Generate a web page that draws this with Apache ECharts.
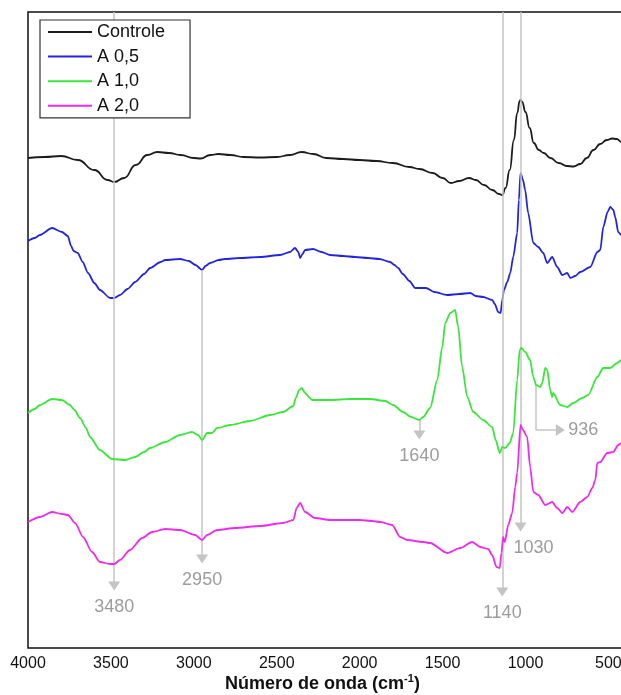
<!DOCTYPE html>
<html>
<head>
<meta charset="utf-8">
<script src="https://cdn.jsdelivr.net/npm/echarts@6/dist/echarts.min.js"></script>
<style>
  html, body { margin: 0; padding: 0; background: #fff; }
  #chart { width: 621px; height: 695px; }
</style>
</head>
<body>
<div id="chart"></div>
<script>
// FTIR spectra, offset vertically (arbitrary units), wavenumber in cm-1
const controle = [
  [4000, 49.0], [3900, 49.1], [3800, 49.2], [3700, 48.8], [3600, 47.8], [3520, 46.8],
  [3480, 46.6], [3420, 47.0], [3350, 48.3], [3280, 49.3], [3220, 49.6], [3150, 49.5],
  [3080, 49.3], [3000, 49.0], [2960, 48.95], [2900, 49.3], [2850, 49.4], [2780, 49.3],
  [2700, 49.1], [2600, 49.05], [2500, 49.1], [2420, 49.3], [2350, 49.6], [2280, 49.4],
  [2200, 49.0], [2100, 48.9], [2000, 48.8], [1900, 48.7], [1800, 48.5], [1700, 48.1],
  [1640, 47.9], [1560, 47.5], [1500, 47.0], [1450, 46.5], [1400, 46.7], [1340, 47.0],
  [1300, 46.8], [1250, 46.3], [1200, 45.8], [1160, 45.4], [1140, 45.3], [1120, 46.0],
  [1095, 47.8], [1070, 50.8], [1050, 53.5], [1035, 54.7], [1030, 54.8], [1020, 54.6],
  [1000, 53.6], [975, 52.0], [950, 50.5], [920, 49.8], [890, 49.5], [850, 49.0],
  [800, 48.5], [750, 48.2], [710, 48.15], [670, 48.4], [630, 49.0], [590, 49.8],
  [550, 50.4], [510, 50.8], [477, 50.95], [450, 50.9], [420, 50.6], [400, 50.4]
];

const a05 = [
  [4000, 40.7], [3960, 41.0], [3928, 41.3], [3855, 42.0], [3795, 41.6], [3760, 41.2],
  [3740, 40.2], [3725, 39.7], [3700, 39.5], [3670, 38.6], [3638, 37.5], [3600, 36.5],
  [3566, 35.8], [3505, 35.0], [3480, 35.0], [3445, 35.3], [3400, 35.9], [3354, 36.6],
  [3300, 37.4], [3264, 38.0], [3200, 38.6], [3173, 38.8], [3083, 38.9], [3030, 38.7],
  [2990, 38.3], [2950, 37.8], [2930, 38.2], [2902, 38.5], [2850, 38.8], [2811, 38.9],
  [2721, 39.0], [2600, 39.1], [2480, 39.3], [2420, 39.6], [2390, 40.0], [2370, 39.6],
  [2359, 39.0], [2345, 39.4], [2329, 39.8], [2281, 39.9], [2230, 39.6], [2178, 39.3],
  [2100, 39.2], [2027, 39.1], [1950, 39.0], [1880, 38.9], [1816, 38.6], [1790, 38.3],
  [1768, 38.0], [1740, 37.4], [1700, 36.7], [1665, 36.0], [1600, 36.0], [1550, 35.6],
  [1472, 35.3], [1400, 35.4], [1333, 35.5], [1300, 35.2], [1255, 35.1], [1201, 34.8],
  [1185, 34.4], [1165, 33.6], [1150, 33.5], [1140, 34.8], [1130, 35.8], [1110, 36.6],
  [1092, 37.5], [1074, 39.1], [1050, 41.5], [1040, 44.8], [1030, 47.5], [1015, 46.8],
  [1002, 45.8], [984, 43.5], [953, 40.5], [923, 40.1], [893, 39.5], [869, 38.5],
  [839, 39.1], [809, 38.1], [778, 37.3], [748, 37.5], [730, 37.0], [700, 37.2],
  [670, 37.6], [609, 38.1], [567, 39.6], [549, 39.8], [531, 42.1], [505, 43.6],
  [489, 44.1], [470, 43.8], [459, 43.1], [441, 41.6], [422, 41.3], [400, 41.0]
];

const a10 = [
  [4000, 23.5], [3960, 23.9], [3928, 24.3], [3855, 24.9], [3795, 24.8], [3747, 24.3],
  [3720, 23.8], [3686, 23.0], [3650, 22.0], [3626, 21.1], [3566, 19.8], [3493, 18.9],
  [3415, 18.8], [3354, 19.1], [3300, 19.6], [3264, 20.0], [3173, 20.6], [3083, 21.3],
  [3011, 21.6], [2974, 21.3], [2950, 20.8], [2920, 21.5], [2890, 21.5], [2860, 22.0],
  [2781, 22.3], [2661, 22.7], [2540, 23.3], [2462, 23.6], [2400, 24.2], [2385, 25.0],
  [2365, 25.8], [2350, 26.0], [2329, 25.5], [2300, 25.0], [2287, 24.8], [2178, 24.8],
  [2057, 24.9], [1937, 24.9], [1846, 24.7], [1798, 24.3], [1738, 23.6], [1690, 23.1],
  [1640, 22.8], [1617, 23.1], [1575, 24.0], [1532, 26.8], [1502, 30.1], [1484, 32.5],
  [1454, 33.5], [1424, 33.8], [1406, 32.1], [1382, 28.1], [1351, 25.1], [1315, 23.6],
  [1255, 22.8], [1201, 22.1], [1180, 20.8], [1155, 19.5], [1140, 20.1], [1122, 20.0],
  [1095, 20.5], [1074, 21.5], [1050, 26.8], [1035, 29.8], [1025, 30.0], [1002, 29.6],
  [972, 28.8], [953, 27.1], [936, 26.3], [911, 26.1], [899, 26.5], [881, 28.0],
  [869, 27.8], [851, 25.8], [839, 25.1], [833, 25.5], [791, 24.3], [748, 24.1],
  [712, 24.5], [658, 25.0], [622, 25.3], [567, 27.1], [531, 28.0], [489, 28.0],
  [447, 28.5], [422, 28.8], [400, 29.0]
];

const a20 = [
  [4000, 12.6], [3928, 13.1], [3855, 13.6], [3795, 13.4], [3759, 13.3], [3716, 12.5],
  [3668, 11.1], [3614, 9.6], [3566, 8.6], [3505, 8.4], [3480, 8.4], [3445, 8.8],
  [3385, 9.8], [3312, 11.0], [3252, 11.6], [3173, 11.9], [3083, 11.8], [2992, 11.3],
  [2950, 10.8], [2920, 11.3], [2860, 11.8], [2751, 12.0], [2600, 12.2], [2462, 12.5],
  [2400, 12.8], [2380, 14.0], [2359, 14.5], [2329, 13.6], [2269, 13.0], [2178, 12.8],
  [2088, 12.8], [1997, 12.8], [1925, 12.7], [1876, 12.6], [1804, 12.3], [1756, 11.1],
  [1713, 10.8], [1617, 10.6], [1575, 10.5], [1472, 9.5], [1394, 10.0], [1321, 10.6],
  [1273, 10.1], [1225, 9.9], [1201, 9.3], [1175, 8.1], [1155, 8.0], [1145, 9.5],
  [1135, 11.1], [1125, 10.6], [1104, 12.3], [1080, 13.5], [1062, 16.1], [1050, 17.5],
  [1030, 22.3], [1015, 21.8], [990, 21.1], [972, 18.1], [953, 15.6], [923, 15.3],
  [881, 14.3], [839, 14.6], [809, 14.0], [778, 13.5], [748, 14.1], [718, 13.6],
  [670, 14.6], [628, 15.1], [597, 16.0], [579, 16.8], [567, 18.5], [549, 18.6],
  [507, 19.5], [471, 19.6], [441, 20.3], [422, 20.5], [400, 20.7]
];

const seriesNames = ['Controle', 'A 0,5', 'A 1,0', 'A 2,0'];
const xTicks = [4000, 3500, 3000, 2500, 2000, 1500, 1000, 500];
const peaks = [3480, 2950, 1640, 1140, 1030, 936];

const FONT = 'Arial, "Liberation Sans", Helvetica, sans-serif';
const COLORS = ['#1c1c1c', '#2424dc', '#3ae63a', '#ec2cec'];
const SMOOTH = [0.5, 0.25, 0.25, 0.25];
const Y_MAX = 63.6;
const GUIDE = '#c4c4c4';
const GUIDE_TEXT = '#9c9c9c';

// Guide lines: where each one starts (a curve, or the frame top) and where its arrow sits
const guideFrom = { 3480: null, 2950: a05, 1640: a10, 1140: null, 1030: null, 936: a10 };
const guideArrowY = { 3480: 6.2, 2950: 8.9, 1640: 21.3, 1140: 5.6, 1030: 12.1, 936: 21.8 };
const guideTextPad = { 1030: [0, 0, 0, 26] }; // keeps the 1030 tag clear of the 1140 guide
const elbowEndWn = 790; // horizontal leg of the 936 guide

function valueAt(data, wn) {
  if (!data) return Y_MAX;
  const p = data.find(d => d[0] === wn);
  return p ? p[1] : Y_MAX;
}

const guideLabel = {
  show: true, position: 'end', distance: 12,
  color: GUIDE_TEXT, fontFamily: FONT, fontSize: 18
};

const guideData = [];
peaks.forEach(wn => {
  const y0 = valueAt(guideFrom[wn], wn);
  const y1 = guideArrowY[wn];
  if (wn === 936) {
    guideData.push([
      { coord: [wn, y0], symbol: 'none' },
      { coord: [wn, y1], symbol: 'none', label: { show: false } }
    ]);
    guideData.push([
      { coord: [wn, y1], symbol: 'none' },
      { coord: [elbowEndWn, y1], symbol: 'triangle', label: Object.assign({}, guideLabel, { formatter: String(wn), distance: 8 }) }
    ]);
  } else {
    guideData.push([
      { coord: [wn, y0], symbol: 'none' },
      { coord: [wn, y1], symbol: 'triangle', label: Object.assign({}, guideLabel, { formatter: String(wn), padding: guideTextPad[wn] || 0 }) }
    ]);
  }
});

const allData = [controle, a05, a10, a20];

const series = allData.map((d, i) => ({
  name: seriesNames[i],
  type: 'line',
  data: d,
  symbol: 'none',
  showSymbol: false,
  smooth: SMOOTH[i],
  smoothMonotone: 'x',
  lineStyle: { color: COLORS[i], width: 1.8 },
  itemStyle: { color: COLORS[i] },
  z: 3 + i
}));

series[0].markLine = {
  silent: true,
  animation: false,
  symbolSize: [12, 9],
  lineStyle: { color: GUIDE, width: 1.5, type: 'solid' },
  itemStyle: { color: '#bdbdbd' },
  label: guideLabel,
  emphasis: { disabled: true },
  data: guideData
};

const chart = echarts.init(document.getElementById('chart'), null, { renderer: 'canvas' });
chart.setOption({
  animation: false,
  backgroundColor: '#fff',
  grid: {
    left: 28, top: 12, width: 597, height: 636,
    outerBoundsMode: 'none',
    containLabel: false,
    show: true, borderColor: '#111', borderWidth: 1.5, backgroundColor: 'transparent'
  },
  legend: {
    data: seriesNames,
    orient: 'vertical',
    left: 40, top: 20,
    padding: [2, 25, 2, 8],
    itemGap: 4.6,
    icon: 'rect',
    itemWidth: 44, itemHeight: 2,
    backgroundColor: '#fff',
    borderColor: '#333', borderWidth: 1.2, borderRadius: 0,
    textStyle: { fontFamily: FONT, fontSize: 18, color: '#111', lineHeight: 20 },
    selectedMode: false,
    z: 10
  },
  xAxis: {
    type: 'value',
    min: 400, max: 4000,
    inverse: true,
    axisLine: { show: false },
    axisTick: { show: false, customValues: xTicks },
    splitLine: { show: false },
    axisLabel: {
      customValues: xTicks,
      formatter: v => String(v),
      fontFamily: FONT, fontSize: 16, color: '#111', margin: 8
    },
    name: '{a|Número de onda (cm}{s|-1}{a|)}',
    nameLocation: 'middle',
    nameGap: 25,
    nameMoveOverlap: false,
    nameTextStyle: {
      padding: [0, 8, 0, 0],
      rich: {
        a: { fontFamily: FONT, fontSize: 18, fontWeight: 'bold', color: '#111', lineHeight: 22 },
        s: { fontFamily: FONT, fontSize: 11, fontWeight: 'bold', color: '#111', verticalAlign: 'top', lineHeight: 12 }
      }
    }
  },
  yAxis: { type: 'value', min: 0, max: Y_MAX, show: false },
  series: series
});
</script>
</body>
</html>
